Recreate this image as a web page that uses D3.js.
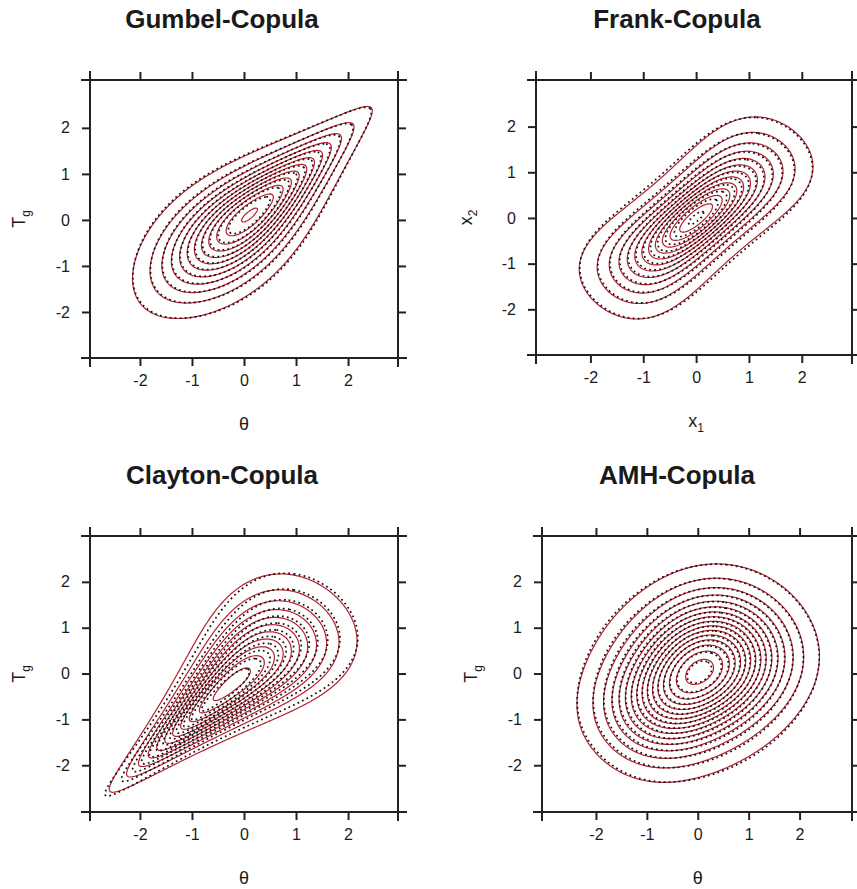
<!DOCTYPE html>
<html>
<head>
<meta charset="utf-8">
<script src="https://cdn.jsdelivr.net/npm/d3@7"></script>
<style>
  body { margin: 0; background: #fff; }
  svg { display: block; font-family: Arial, "Liberation Sans", sans-serif; }
  .tick-label { font-size: 16px; fill: #1a1a1a; }
  .title { font-size: 26px; font-weight: bold; fill: #1a1a1a; }
  .axis-title { font-size: 18px; fill: #1a1a1a; }
</style>
</head>
<body>
<div id="canvas"></div>
<script>
// copula families, one panel each
var copulaNames = ['Gumbel-Copula', 'Frank-Copula', 'Clayton-Copula', 'AMH-Copula'];
var copulaKeys = ['gumbel', 'frank', 'clayton', 'amh'];
// fitted parameter (red solid) and sample estimate (black dotted)
var thetaFitted = [2.0, 5.7, 1.8, 0.6];
var thetaEmpirical = [1.95, 5.3, 2.2, 0.55];
// contour levels of the density
var levelsFine = [0.01, 0.02, 0.03, 0.04, 0.05, 0.06, 0.07, 0.08, 0.09, 0.10,
                  0.11, 0.12, 0.13, 0.14, 0.15, 0.16, 0.17, 0.18, 0.19, 0.20];
var levelsCoarse = [0.02, 0.04, 0.06, 0.08, 0.10, 0.12, 0.14, 0.16, 0.18, 0.20,
                    0.22, 0.24, 0.26, 0.28, 0.30, 0.32, 0.34, 0.36, 0.38, 0.40];
var panelLevels = [levelsCoarse, levelsCoarse, levelsCoarse, levelsFine];
var tickValues = [-2, -1, 0, 1, 2];
var xTitles = [['θ', ''], ['x', '1'], ['θ', ''], ['θ', '']];
var yTitles = [['T', 'g'], ['x', '2'], ['T', 'g'], ['T', 'g']];

// panel boxes in pixels
var boxes = [
  {l: 90,  r: 398, t: 80,  b: 358, xd: [-2.96, 2.96], yd: [-3.0, 3.04], tx: 222, ylab: 25},
  {l: 536, r: 852, t: 80,  b: 355, xd: [-3.03, 2.95], yd: [-3.0, 3.02], tx: 677, ylab: 472},
  {l: 90,  r: 398, t: 536, b: 812, xd: [-2.96, 2.96], yd: [-3.02, 3.0], tx: 222, ylab: 25},
  {l: 542, r: 852, t: 536, b: 812, xd: [-3.06, 3.03], yd: [-3.02, 3.0], tx: 677, ylab: 477}
];

var W = 857, H = 889;
var svg = d3.select('#canvas').append('svg')
    .attr('width', W).attr('height', H);

// normal margins
function erfc(x){
  var z = Math.abs(x), t = 1/(1+0.5*z);
  var r = t*Math.exp(-z*z-1.26551223+t*(1.00002368+t*(0.37409196+t*(0.09678418+
      t*(-0.18628806+t*(0.27886807+t*(-1.13520398+t*(1.48851587+
      t*(-0.82215223+t*0.17087277)))))))));
  return x >= 0 ? r : 2 - r;
}
function pnorm(x){ return 0.5*erfc(-x/Math.SQRT2); }
function dnorm(x){ return Math.exp(-x*x/2)/Math.sqrt(2*Math.PI); }

var copulaDensity = {
  gumbel: function(u, v, th){
    var a = -Math.log(u), b = -Math.log(v);
    var s = Math.pow(a, th) + Math.pow(b, th), w = Math.pow(s, 1/th);
    return Math.exp(-w)/(u*v)*Math.pow(a*b, th-1)*Math.pow(s, -2+2/th)*(1+(th-1)/w);
  },
  frank: function(u, v, th){
    var e = Math.exp(-th);
    var den = (1-e) - (1-Math.exp(-th*u))*(1-Math.exp(-th*v));
    return th*(1-e)*Math.exp(-th*(u+v))/(den*den);
  },
  clayton: function(u, v, th){
    return (1+th)*Math.pow(u*v, -th-1)*Math.pow(Math.pow(u, -th)+Math.pow(v, -th)-1, -2-1/th);
  },
  amh: function(u, v, th){
    var den = 1 - th*(1-u)*(1-v);
    return (1 + th*((1+u)*(1+v)-3) + th*th*(1-u)*(1-v))/(den*den*den);
  }
};

// grid for the contours
var g0 = -3.2, gStep = 0.025, gN = 257;

function densityGrid(key, th){
  var vals = new Array(gN*gN);
  for (var j = 0; j < gN; j++){
    var y = g0 + j*gStep, v = pnorm(y), fy = dnorm(y);
    for (var i = 0; i < gN; i++){
      var x = g0 + i*gStep, u = pnorm(x);
      vals[j*gN+i] = copulaDensity[key](u, v, th)*dnorm(x)*fy;
    }
  }
  return vals;
}

boxes.forEach(function(bx, k){
  var x = d3.scaleLinear().domain(bx.xd).range([bx.l, bx.r]);
  var y = d3.scaleLinear().domain(bx.yd).range([bx.b, bx.t]);
  var panel = svg.append('g').attr('class', 'panel');
  var contourGen = d3.contours().size([gN, gN]).thresholds(panelLevels[k]);

  var clipId = 'clip' + k;
  panel.append('clipPath').attr('id', clipId)
    .append('rect').attr('x', bx.l).attr('y', bx.t)
    .attr('width', bx.r - bx.l).attr('height', bx.b - bx.t);

  var proj = d3.geoTransform({
    point: function(cx, cy){
      this.stream.point(x(g0 + (cx-0.5)*gStep), y(g0 + (cy-0.5)*gStep));
    }
  });
  var path = d3.geoPath(proj);

  var plot = panel.append('g').attr('clip-path', 'url(#' + clipId + ')');

  plot.selectAll('.fit')
    .data(contourGen(densityGrid(copulaKeys[k], thetaFitted[k])))
    .enter().append('path')
    .attr('class', 'fit')
    .attr('d', path)
    .attr('fill', 'none')
    .attr('stroke', '#b4202c')
    .attr('stroke-width', 1.2);

  plot.selectAll('.emp')
    .data(contourGen(densityGrid(copulaKeys[k], thetaEmpirical[k])))
    .enter().append('path')
    .attr('class', 'emp')
    .attr('d', path)
    .attr('fill', 'none')
    .attr('stroke', '#111')
    .attr('stroke-width', 1.7)
    .attr('stroke-dasharray', '1.8,3.2');

  // frame, lines run past the corners
  var ext = 9, frame = panel.append('g')
    .attr('stroke', '#222').attr('stroke-width', 2);
  frame.append('line').attr('x1', bx.l-ext).attr('x2', bx.r+ext).attr('y1', bx.t).attr('y2', bx.t);
  frame.append('line').attr('x1', bx.l-ext).attr('x2', bx.r+ext).attr('y1', bx.b).attr('y2', bx.b);
  frame.append('line').attr('x1', bx.l).attr('x2', bx.l).attr('y1', bx.t-ext).attr('y2', bx.b+ext);
  frame.append('line').attr('x1', bx.r).attr('x2', bx.r).attr('y1', bx.t-ext).attr('y2', bx.b+ext);

  // ticks on all four sides, labels on bottom and left
  var fmt = function(d){ return String(d); };
  var axB = d3.axisBottom(x).tickValues(tickValues).tickSize(8).tickSizeOuter(0).tickFormat(fmt);
  var axT = d3.axisTop(x).tickValues(tickValues).tickSize(8).tickSizeOuter(0).tickFormat('');
  var axL = d3.axisLeft(y).tickValues(tickValues).tickSize(8).tickSizeOuter(0).tickFormat(fmt);
  var axR = d3.axisRight(y).tickValues(tickValues).tickSize(8).tickSizeOuter(0).tickFormat('');

  [[axB, 'translate(0,' + bx.b + ')', 'b'], [axT, 'translate(0,' + bx.t + ')', 't'],
   [axL, 'translate(' + bx.l + ',0)', 'l'], [axR, 'translate(' + bx.r + ',0)', 'r']].forEach(function(a){
    var g = panel.append('g').attr('transform', a[1]).call(a[0]);
    g.attr('font-size', null).attr('font-family', null);
    g.select('.domain').remove();
    g.selectAll('.tick line').attr('stroke', '#222').attr('stroke-width', 2);
    var lab = g.selectAll('.tick text').attr('class', 'tick-label').attr('fill', null);
    if (a[2] === 'b') lab.attr('y', 13).attr('dy', '0.95em');
    if (a[2] === 'l') lab.attr('x', -20);
  });

  // titles
  panel.append('text').attr('class', 'title')
    .attr('x', bx.tx).attr('y', bx.t - 52)
    .attr('text-anchor', 'middle').text(copulaNames[k]);

  var xt = panel.append('text').attr('class', 'axis-title')
    .attr('x', (x(0))).attr('y', bx.b + 72).attr('text-anchor', 'middle');
  xt.append('tspan').text(xTitles[k][0]);
  if (xTitles[k][1]) xt.append('tspan').attr('dy', 5).attr('font-size', 12).text(xTitles[k][1]);

  var yc = (bx.t + bx.b)/2;
  var yt = panel.append('text').attr('class', 'axis-title')
    .attr('transform', 'translate(' + bx.ylab + ',' + yc + ') rotate(-90)')
    .attr('text-anchor', 'middle');
  yt.append('tspan').text(yTitles[k][0]);
  yt.append('tspan').attr('dy', 5).attr('font-size', 12).text(yTitles[k][1]);
});
</script>
</body>
</html>
